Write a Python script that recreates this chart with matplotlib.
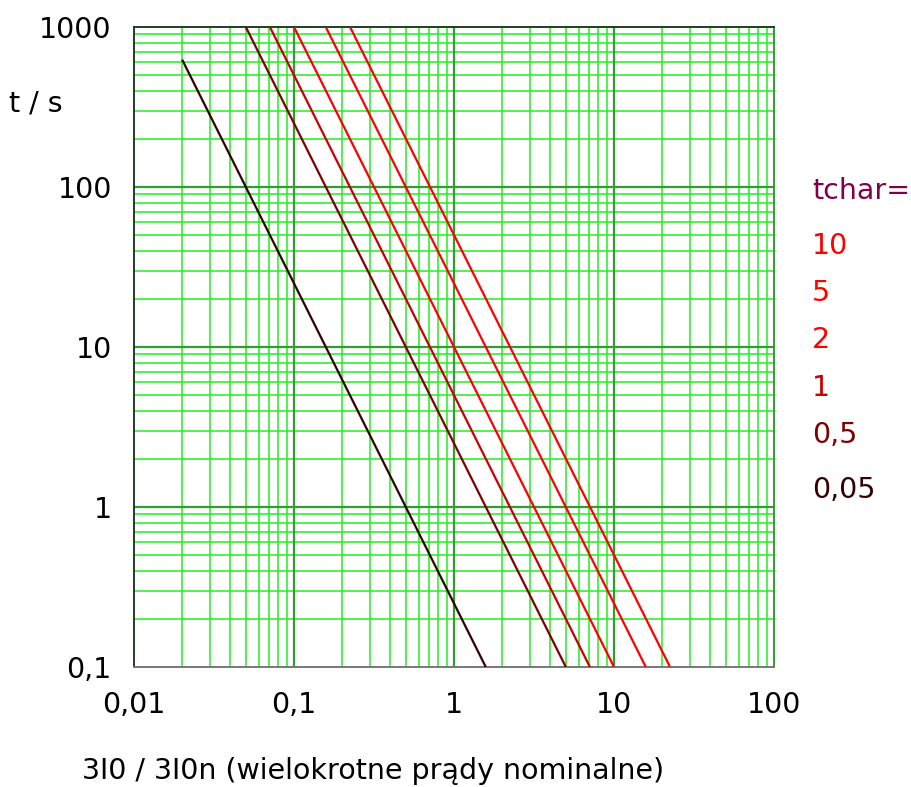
import matplotlib.pyplot as plt
import numpy as np

# curve endpoints (x = multiple of nominal current, t in s)
tchar_labels = ["10", "5", "2", "1", "0,5", "0,05"]
x_start = [0.224, 0.158, 0.1, 0.0707, 0.05, 0.02]
t_start = [1000, 1000, 1000, 1000, 1000, 625]
x_end = [22.4, 15.8, 10.0, 7.07, 5.0, 1.58]
t_end = [0.1, 0.1, 0.1, 0.1, 0.1, 0.1]
line_colors = ["#ff0000", "#ff0000", "#ff0000", "#c80000", "#800000", "#330000"]

x_ticks = [0.01, 0.1, 1, 10, 100]
x_ticklabels = ["0,01", "0,1", "1", "10", "100"]
y_ticks = [0.1, 1, 10, 100, 1000]
y_ticklabels = ["0,1", "1", "10", "100", "1000"]

fs = 20.5

fig = plt.figure(figsize=(9.12, 7.87), dpi=100)
ax = fig.add_axes([134/912, 1-667/787, 640/912, 640/787])
ax.set_xscale("log")
ax.set_yscale("log")
ax.set_xlim(0.01, 100)
ax.set_ylim(0.1, 1000)

# grid
for dec in [0.01, 0.1, 1, 10]:
    for m in range(2, 10):
        ax.axvline(dec*m, color="#22ee22", lw=1.1, zorder=1)
for dec in [0.1, 1, 10, 100]:
    for m in range(2, 10):
        ax.axhline(dec*m, color="#22ee22", lw=1.1, zorder=1)
for v in x_ticks[1:-1]:
    ax.axvline(v, color="#2e9e2e", lw=1.6, zorder=2)
for v in y_ticks[1:-1]:
    ax.axhline(v, color="#2e9e2e", lw=1.6, zorder=2)

for i in range(len(tchar_labels)):
    ax.plot([x_start[i], x_end[i]], [t_start[i], t_end[i]], color=line_colors[i],
            lw=1.6, zorder=3, solid_capstyle="butt")

ax.set_xticks(x_ticks)
ax.set_xticklabels(x_ticklabels)
ax.set_yticks(y_ticks)
ax.set_yticklabels(y_ticklabels)
ax.minorticks_off()
ax.tick_params(axis="both", length=0, labelsize=fs)
ax.tick_params(axis="x", pad=17)
ax.tick_params(axis="y", pad=16)

ax.spines["left"].set_color("#1f3f1f")
ax.spines["top"].set_color("#1f3f1f")
ax.spines["right"].set_color("#2e9e2e")
ax.spines["bottom"].set_color("#777777")
for s in ax.spines.values():
    s.set_linewidth(1.4)

fig.text(36/912, 1-104/787, "t / s", fontsize=fs, ha="center", va="center")
fig.text(373/912, 1-771/787, "3I0 / 3I0n (wielokrotne prądy nominalne)",
         fontsize=fs, ha="center", va="center")

fig.text(812/912, 1-191/787, "tchar=", fontsize=fs, color="#800050", va="center")
legend_y = [246, 293, 340, 388, 435, 490]
for i in range(len(tchar_labels)):
    fig.text(812/912, 1-legend_y[i]/787, tchar_labels[i], fontsize=fs,
             color=line_colors[i], va="center")

plt.savefig("out.png", dpi=100)
